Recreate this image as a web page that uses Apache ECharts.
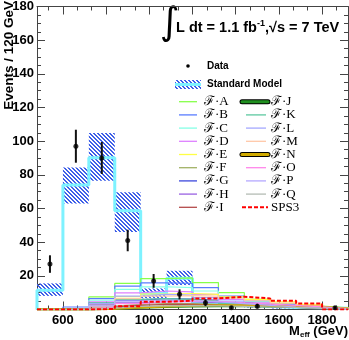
<!DOCTYPE html>
<html><head><meta charset="utf-8">
<script src="https://cdn.jsdelivr.net/npm/echarts@6/dist/echarts.min.js"></script>
<style>html,body{margin:0;padding:0;background:#fff}#c{width:349px;height:340px}</style>
</head><body><div id="c"></div>
<script>
// ---------- data ----------
const binEdges = [480,600,720,840,960,1080,1200,1320,1440,1560,1680,1800,1920];
const dataCenters = [540,660,780,900,1020,1140,1260,1380,1500,1860];
const dataValues  = [27,97,90,41,17,9,4,1,2,1];
const dataErrors  = [5.2,9.8,9.5,6.4,4.1,3,2,1,1.4,1];
const smValues = [11.5,74,90.2,58.6,9.5,18.5,4,3,2,1.2,1,0.8];
const smLow    = [8.1,63,76.5,46,6.6,14.5,3,2,1.2,0.6,0.4,0.3];
const smHigh   = [15.5,84.3,104.9,69.6,12.5,23,5.2,4,2.8,1.8,1.6,1.3];
const xTickValues = [600,800,1000,1200,1400,1600,1800];
const fA = [0,0.5,7.5,15.5,18.4,18.8,16,10,6,3.5,2,1];
const fB = [0,1.5,6.5,13.9,15.8,15.5,13,8,5,3,1.5,0.5];
const fC = [0,0.5,5.5,11.9,13.5,13,11,7,4.5,2.5,1.2,0.5];
const fD = [0,0.3,4.5,9.9,11,10.5,9,6,4,2,1,0.3];
const fE = [0,0.2,3,7.6,9.2,9.5,9,7.5,6,4.5,3,1];
const fF = [0,0.2,2,3,3.5,3.5,3,2.5,2,1.5,1,0.5];
const fG = [0,0.5,3.7,5.6,6.5,6.2,5.5,4,3,2,1,0.3];
const fH = [0,0.2,2.7,4,4.6,4.6,4,3.2,2.4,1.6,0.8,0.2];
const fI = [0,0.1,1.5,2.5,3,3,2.8,2.3,1.8,1.2,0.7,0.2];
const fJ = [0,0,0.5,1,1.5,1.8,2,2,1.8,1.5,1.2,0.5];
const fK = [0,0.2,4,6,6.5,6,5,3.5,2.5,1.5,0.8,0.2];
const fL = [0,0.3,3.5,8,9,8.5,7,5,3.5,2,1,0.3];
const fM = [0,0.2,2,6.5,8,8.2,8,6.8,5.2,3.8,2.5,0.8];
const fN = [0,0,0.5,1.2,1.8,2.2,2.5,2.5,2.3,2,1.6,0.6];
const fO = [0,0.1,1.2,3.5,4.5,5,4.8,4,3.2,2.4,1.6,0.5];
const fP = [0,0.2,2.2,5,5.5,5.2,4.5,3.5,2.5,1.5,0.8,0.2];
const fQ = [0,0,0.8,1.8,2.2,2.3,2.2,1.9,1.5,1.2,0.8,0.3];
const sps3 = [0,0,0.3,2,4.6,5.2,6.6,7.6,6.6,5.2,3.6,0];
const modelNames = ['ℱ·A','ℱ·B','ℱ·C','ℱ·D','ℱ·E','ℱ·F','ℱ·G','ℱ·H','ℱ·I',
                    'ℱ·J','ℱ·K','ℱ·L','ℱ·M','ℱ·N','ℱ·O','ℱ·P','ℱ·Q','SPS3'];
const modelValues = [fA,fB,fC,fD,fE,fF,fG,fH,fI,fJ,fK,fL,fM,fN,fO,fP,fQ,sps3];

// ---------- styles ----------
const modelColors = ['#86ff4a','#5a7cff','#86ffe6','#de80ff','#ffff44','#a2b266','#3c48dc','#9a62e2','#b44a4a',
                     '#1f8f1f','#5ec8a0','#a4a8ff','#ffc8a8','#d0aa00','#ff86ea','#b4a8ff','#b4bcb4','#ff0000'];
const thick = {9:true, 13:true};
const fontSans = '"Liberation Sans", Arial, Helvetica, sans-serif';
const fontSerif = '"Liberation Serif", "DejaVu Serif", serif';

const pc = document.createElement('canvas');
pc.width = 4; pc.height = 4;
const pctx = pc.getContext('2d');
pctx.fillStyle = '#3f60e8';
for (let i = 0; i < 4; i++) { pctx.fillRect(i, i, 1, 1); pctx.fillRect((i + 1) % 4, i, 1, 1); }
const hatch = {image: pc, repeat: 'repeat'};

function stepData(vals) {
  const last = binEdges[binEdges.length - 1];
  const pts = [[binEdges[0], 0]];
  vals.forEach((v, i) => pts.push([binEdges[i], v]));
  pts.push([last, vals[vals.length - 1]]);
  pts.push([last, 0]);
  return pts;
}

const xMinor = [];
for (let v = 533.3333; v < 1920; v += 66.66667) {
  if (Math.abs((v - 600) / 200 - Math.round((v - 600) / 200)) > 0.01) xMinor.push(v);
}

const series = [];
series.push({
  type: 'custom', name: 'band', z: 1,
  data: smValues.map((v, i) => [binEdges[i], binEdges[i + 1], smLow[i], smHigh[i]]),
  encode: {x: [0, 1], y: [2, 3]},
  renderItem: function (params, api) {
    const p0 = api.coord([api.value(0), api.value(3)]);
    const p1 = api.coord([api.value(1), api.value(2)]);
    return {type: 'rect', shape: {x: p0[0], y: p0[1], width: p1[0] - p0[0], height: p1[1] - p0[1]},
            style: {fill: hatch}};
  }
});
series.push({
  type: 'line', name: 'SM', step: 'end', data: stepData(smValues), symbol: 'none', z: 2,
  lineStyle: {color: '#7ef2ff', width: 3}, animation: false
});
modelValues.forEach((vals, k) => {
  series.push({
    type: 'line', name: modelNames[k], step: 'end', data: stepData(vals), symbol: 'none', z: 3,
    lineStyle: {color: modelColors[k], width: thick[k] ? 2 : (k === 17 ? 2 : 1.2), type: k === 17 ? [4, 2] : 'solid'},
    animation: false
  });
});
series.push({
  type: 'custom', name: 'errors', z: 5,
  data: dataCenters.map((x, i) => [x, dataValues[i] - dataErrors[i], dataValues[i] + dataErrors[i]]),
  encode: {x: 0, y: [1, 2]},
  renderItem: function (params, api) {
    const a = api.coord([api.value(0), api.value(1)]);
    const b = api.coord([api.value(0), api.value(2)]);
    return {type: 'line', shape: {x1: a[0], y1: a[1], x2: b[0], y2: b[1]},
            style: {stroke: '#111', lineWidth: 2}};
  }
});
series.push({
  type: 'scatter', name: 'Data', z: 6, symbol: 'circle', symbolSize: 5,
  itemStyle: {color: '#000'},
  data: dataCenters.map((x, i) => [x, dataValues[i]])
});

// ---------- legend & texts (graphic) ----------
const g = [];
g.push({type: 'text', x: 170, y: 24, style: {text: '∫', font: '38px "DejaVu Sans", sans-serif', fill: '#000', align: 'center', verticalAlign: 'middle'}});
g.push({type: 'text', x: 176, y: 28, style: {
  text: '{a|L dt = 1.1 fb}{s|-1}{a|,√s = 7 TeV}',
  align: 'left', verticalAlign: 'middle',
  rich: {a: {fontFamily: fontSans, fontWeight: 'bold', fontSize: 14.5, lineHeight: 18, fill: '#000'},
         s: {fontFamily: fontSans, fontWeight: 'bold', fontSize: 9, lineHeight: 9, verticalAlign: 'top', fill: '#000'}}
}});
g.push({type: 'circle', shape: {cx: 188, cy: 66, r: 1.8}, style: {fill: '#000'}});
g.push({type: 'text', x: 207, y: 66, style: {text: 'Data', fontFamily: fontSans, fontWeight: 'bold', fontSize: 10, fill: '#000', verticalAlign: 'middle'}});
g.push({type: 'rect', shape: {x: 175, y: 80, width: 26, height: 9}, style: {fill: hatch}});
g.push({type: 'line', shape: {x1: 175, y1: 84.5, x2: 201, y2: 84.5}, style: {stroke: '#7ef2ff', lineWidth: 3}});
g.push({type: 'text', x: 207, y: 84.5, style: {text: 'Standard Model', fontFamily: fontSans, fontWeight: 'bold', fontSize: 10, fill: '#000', verticalAlign: 'middle'}});
modelNames.forEach((name, k) => {
  const col = k < 9 ? 0 : 1;
  const row = k % 9;
  const y = 101.7 + 13.2 * row;
  const x1 = col === 0 ? 179 : (thick[k] || k === 17 ? 242 : 246);
  const x2 = col === 0 ? 197 : (thick[k] || k === 17 ? 268 : 266);
  const tx = col === 0 ? 204 : 271;
  if (thick[k]) {
    g.push({type: 'line', shape: {x1: x1, y1: y, x2: x2, y2: y}, style: {stroke: '#000', lineWidth: 5, lineCap: 'round'}});
    g.push({type: 'line', shape: {x1: x1, y1: y, x2: x2, y2: y}, style: {stroke: modelColors[k], lineWidth: 3, lineCap: 'round'}});
  } else {
    g.push({type: 'line', shape: {x1: x1, y1: y, x2: x2, y2: y},
            style: {stroke: modelColors[k], lineWidth: k === 17 ? 2 : 1.3, lineDash: k === 17 ? [4, 2] : null}});
  }
  g.push({type: 'text', x: tx, y: y, style: {text: name, fontFamily: fontSerif, fontSize: 13, fill: '#000', verticalAlign: 'middle'}});
});
g.push({type: 'text', x: 9, y: 1, rotation: Math.PI / 2, style: {
  text: 'Events / 120 GeV', fontFamily: fontSans, fontWeight: 'bold', fontSize: 13.5, fill: '#000',
  align: 'right', verticalAlign: 'middle'}});
g.push({type: 'text', x: 348, y: 331, style: {
  text: '{a|M}{b|eff}{a| (GeV)}', align: 'right', verticalAlign: 'middle',
  rich: {a: {fontFamily: fontSans, fontWeight: 'bold', fontSize: 13, lineHeight: 16, fill: '#000'},
         b: {fontFamily: fontSans, fontWeight: 'bold', fontSize: 8, lineHeight: 8, verticalAlign: 'bottom', fill: '#000'}}
}});

const axisCol = '#444';
const xBase = {type: 'value', min: 480, max: 1920, splitLine: {show: false}, gridIndex: 0};
const yBase = {type: 'value', min: 0, max: 180, interval: 20, splitLine: {show: false}, minorSplitLine: {show: false}};
const option = {
  animation: false,
  grid: {left: 37, right: 1, top: 4.4, bottom: 30.5, containLabel: false},
  xAxis: [
    Object.assign({}, xBase, {position: 'bottom',
      axisLine: {show: true, lineStyle: {color: axisCol, width: 1}},
      axisTick: {show: true, inside: true, length: 8, customValues: xTickValues, lineStyle: {color: axisCol}},
      axisLabel: {show: true, customValues: xTickValues, fontFamily: fontSans, fontWeight: 'bold', fontSize: 13, color: '#000', margin: 4,
                  formatter: v => String(v)}}),
    Object.assign({}, xBase, {position: 'bottom',
      axisLine: {show: false},
      axisTick: {show: true, inside: true, length: 4, customValues: xMinor, lineStyle: {color: axisCol}},
      axisLabel: {show: false}}),
    Object.assign({}, xBase, {position: 'top',
      axisLine: {show: true, lineStyle: {color: axisCol, width: 1}},
      axisTick: {show: true, inside: true, length: 8, customValues: xTickValues, lineStyle: {color: axisCol}},
      axisLabel: {show: false}}),
    Object.assign({}, xBase, {position: 'top',
      axisLine: {show: false},
      axisTick: {show: true, inside: true, length: 4, customValues: xMinor, lineStyle: {color: axisCol}},
      axisLabel: {show: false}})
  ],
  yAxis: [
    Object.assign({}, yBase, {position: 'left',
      axisLine: {show: true, lineStyle: {color: axisCol, width: 1}},
      axisTick: {show: true, inside: true, length: 8, lineStyle: {color: axisCol}},
      minorTick: {show: true, splitNumber: 4, length: 4, lineStyle: {color: axisCol}},
      axisLabel: {show: true, fontFamily: fontSans, fontWeight: 'bold', fontSize: 13, color: '#000', margin: 3,
                  formatter: v => (v === 0 ? '' : String(v))}}),
    Object.assign({}, yBase, {position: 'right',
      axisLine: {show: true, lineStyle: {color: axisCol, width: 1}},
      axisTick: {show: true, inside: true, length: 8, lineStyle: {color: axisCol}},
      minorTick: {show: true, splitNumber: 4, length: 4, lineStyle: {color: axisCol}},
      axisLabel: {show: false}})
  ],
  series: series,
  graphic: g
};
const chart = echarts.init(document.getElementById('c'), null, {renderer: 'canvas'});
chart.setOption(option);
</script>
</body></html>
